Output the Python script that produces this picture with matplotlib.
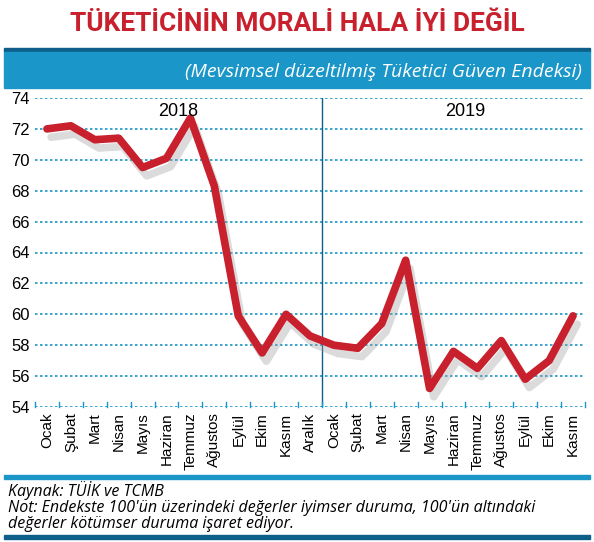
import matplotlib
matplotlib.use("Agg")
import matplotlib.pyplot as plt
import matplotlib.patheffects as pe

months_2018 = ["Ocak","Şubat","Mart","Nisan","Mayıs","Haziran","Temmuz","Ağustos","Eylül","Ekim","Kasım","Aralık"]
months_2019 = ["Ocak","Şubat","Mart","Nisan","Mayıs","Haziran","Temmuz","Ağustos","Eylül","Ekim","Kasım"]
values_2018 = [72.0, 72.2, 71.3, 71.4, 69.5, 70.1, 72.7, 68.3, 59.9, 57.5, 60.0, 58.6]
values_2019 = [58.0, 57.8, 59.4, 63.5, 55.2, 57.6, 56.5, 58.3, 55.8, 57.0, 59.9]
yticks = [54, 56, 58, 60, 62, 64, 66, 68, 70, 72, 74]

labels = months_2018 + months_2019
vals = values_2018 + values_2019
x = list(range(len(vals)))
blue = "#1a96c8"
dark = "#0d5f8a"
red = "#c8202c"
W, H = 594, 542
fig = plt.figure(figsize=(W/100, H/100), dpi=100)
fig.patch.set_facecolor("white")

def fy(p): return 1 - p/H
def fx(p): return p/W

fig.text(0.5, fy(24), "TÜKETİCİNİN MORALİ HALA İYİ DEĞİL", ha="center", va="center",
         fontsize=19, color=red, fontweight="bold", family="Roboto")
fig.add_artist(plt.Rectangle((fx(4), fy(52)), fx(586), 4/H, color=dark, transform=fig.transFigure))
fig.add_artist(plt.Rectangle((fx(4), fy(88)), fx(586), 36/H, color=blue, transform=fig.transFigure))
fig.text(fx(582), fy(72), "(Mevsimsel düzeltilmiş Tüketici Güven Endeksi)", ha="right", va="center",
         fontsize=14, color="white", style="italic", family="Open Sans")
fig.add_artist(plt.Rectangle((fx(4), fy(479)), fx(586), 4/H, color=blue, transform=fig.transFigure))
fig.add_artist(plt.Rectangle((fx(4), fy(539)), fx(586), 4/H, color=dark, transform=fig.transFigure))
fig.text(fx(8), fy(490), "Kaynak: TÜİK ve TCMB", ha="left", va="center", fontsize=11.5, style="italic", family="Open Sans")
fig.text(fx(8), fy(516), "Not: Endekste 100'ün üzerindeki değerler iyimser duruma, 100'ün altındaki\ndeğerler kötümser duruma işaret ediyor.",
         ha="left", va="center", fontsize=11.5, style="italic", family="Open Sans", linespacing=0.95)

ax = fig.add_axes([fx(35), fy(407), fx(550), (407-98)/H])
ax.set_xlim(-0.5, len(vals)-0.5)
ax.set_ylim(54, 74)
for s in ax.spines.values():
    s.set_visible(False)
for t in yticks:
    ax.axhline(t, color=blue, lw=1.2, ls=(0, (1.5, 1.5)), zorder=0)
ax.axvline(11.5, color=dark, lw=1, zorder=1)
for i in range(len(vals)+1):
    ax.plot([i-0.5, i-0.5], [54, 54.35], color=blue, lw=1, clip_on=False)
ax.plot(x, vals, color=red, lw=5.5, solid_joinstyle="round", solid_capstyle="round", zorder=3,
        path_effects=[pe.SimpleLineShadow(offset=(3, -6), shadow_color="#999999", alpha=0.35), pe.Normal()])
ax.set_yticks(yticks)
ax.set_yticklabels([str(t) for t in yticks], fontsize=12, family="Liberation Sans")
ax.set_xticks(x)
ax.set_xticklabels(labels, rotation=90, fontsize=11, family="Liberation Sans")
ax.tick_params(length=0, pad=4)
ax.text(5.5, 73.1, "2018", ha="center", va="center", fontsize=13, family="Liberation Sans")
ax.text(17.5, 73.1, "2019", ha="center", va="center", fontsize=13, family="Liberation Sans")
fig.savefig("out.png", dpi=100)
